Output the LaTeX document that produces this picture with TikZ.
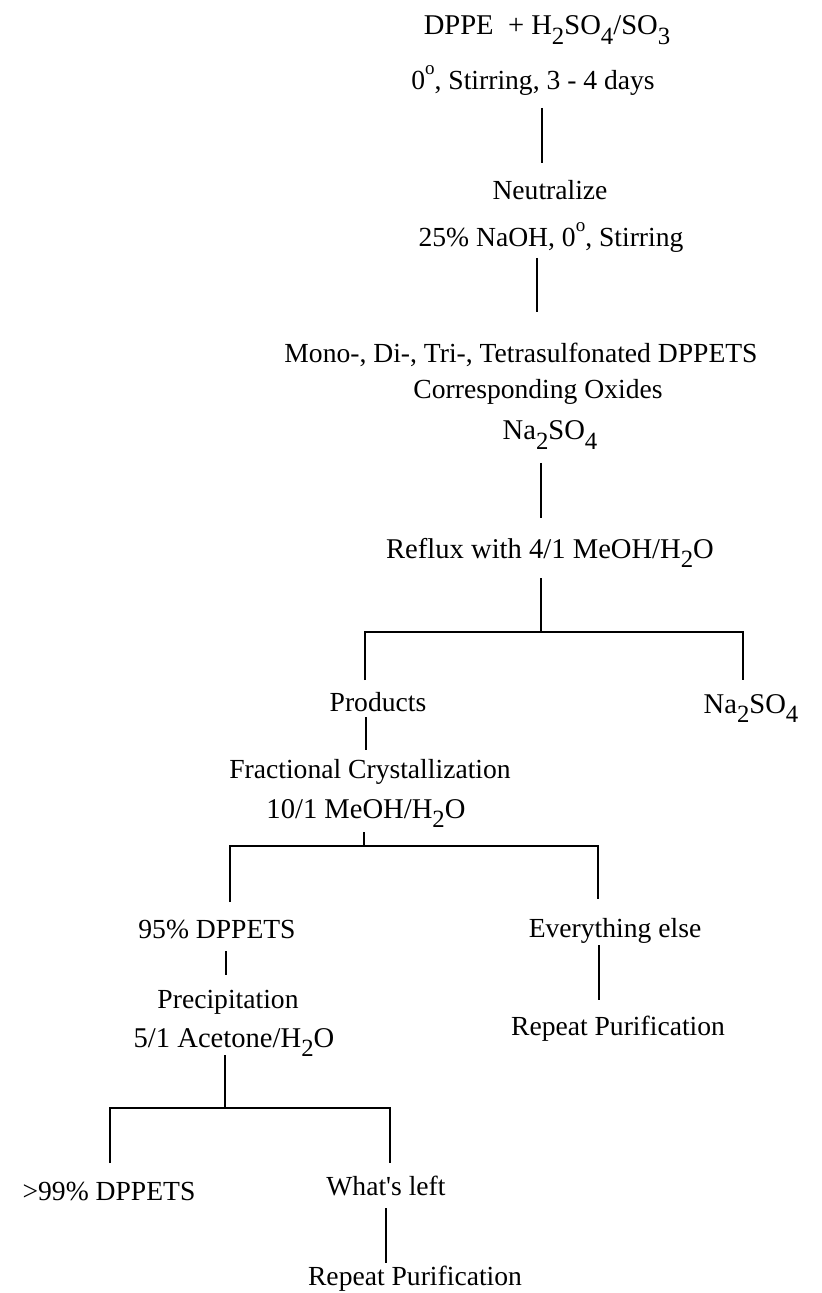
\documentclass[tikz,border=0pt]{standalone}
\usepackage{fontspec}
\setmainfont{Liberation Serif}
\usetikzlibrary{positioning}

\newcommand{\sbs}[1]{\raisebox{-0.32em}{\fontsize{12.4}{13}\selectfont #1}}
\newcommand{\dg}{\raisebox{0.55em}{\fontsize{9.5}{10}\selectfont o}}

\begin{document}
\begin{tikzpicture}[x=0.5pt,y=-0.5pt,line width=0.6pt]
	\tikzset{txt/.style={anchor=base,inner sep=0pt,font=\fontsize{13.8}{16}\selectfont},
		chem/.style={txt,font=\fontsize{14.3}{17}\selectfont}}
	\useasboundingbox (0,0) rectangle (821,1293);
	% main line of the work-up
	\node[chem] (start) at (547,35) {DPPE \ + H\sbs{2}SO\sbs{4}/SO\sbs{3}};
	\node[txt] (cond) at (533,90) {0\dg, Stirring, 3 - 4 days};
	\node[txt] (neut) at (550,200) {Neutralize};
	\node[txt] (naoh) at (551,247) {25\% NaOH, 0\dg, Stirring};
	\node[txt] (mono) at (521,363) {Mono-, Di-, Tri-, Tetrasulfonated DPPETS};
	\node[txt] (oxid) at (538,399) {Corresponding Oxides};
	\node[chem] (salt) at (550,440) {Na\sbs{2}SO\sbs{4}};
	\node[chem] (reflux) at (550,558) {Reflux with 4/1 MeOH/H\sbs{2}O};
	% first split
	\node[txt] (prod) at (378,711) {Products};
	\node[chem] (salt2) at (751,713) {Na\sbs{2}SO\sbs{4}};
	\node[txt] (frac) at (370,778) {Fractional Crystallization};
	\node[chem] (meoh) at (366,818) {10/1 MeOH/H\sbs{2}O};
	% second split
	\node[txt] (pure) at (217,938) {95\% DPPETS};
	\node[txt] (rest) at (615,937) {Everything else};
	\node[txt] (prec) at (228,1008) {Precipitation};
	\node[chem] (acet) at (234,1047) {5/1 Acetone/H\sbs{2}O};
	\node[txt] (rep1) at (618,1035) {Repeat Purification};
	% third split
	\node[txt] (best) at (109,1200) {>99\% DPPETS};
	\node[txt] (left) at (386,1195) {What\textquotesingle s left};
	\node[txt] (rep2) at (415,1285) {Repeat Purification};

	% line ends
	\coordinate (c1a) at (542,108); \coordinate (c1b) at (542,163);
	\coordinate (c2a) at (537,258); \coordinate (c2b) at (537,312);
	\coordinate (c3a) at (541,463); \coordinate (c3b) at (541,518);
	\coordinate (c4a) at (541,578); \coordinate (s1) at (541,632);
	\coordinate (s1l) at (365,680); \coordinate (s1r) at (743,680);
	\coordinate (c5a) at (366,717); \coordinate (c5b) at (366,750);
	\coordinate (c6a) at (364,832); \coordinate (s2) at (364,846);
	\coordinate (s2l) at (230,902); \coordinate (s2r) at (598,899);
	\coordinate (c7a) at (226,951); \coordinate (c7b) at (226,975);
	\coordinate (c8a) at (599,945); \coordinate (c8b) at (599,1000);
	\coordinate (c9a) at (225,1055); \coordinate (s3) at (225,1108);
	\coordinate (s3l) at (110,1163); \coordinate (s3r) at (390,1163);
	\coordinate (c10a) at (386,1208); \coordinate (c10b) at (386,1263);

	\draw (c1a) -- (c1b);
	\draw (c2a) -- (c2b);
	\draw (c3a) -- (c3b);
	\draw (c4a) -- (s1);
	\draw (s1l) |- (s1) -| (s1r);
	\draw (c5a) -- (c5b);
	\draw (c6a) -- (s2);
	\draw (s2l) |- (s2) -| (s2r);
	\draw (c7a) -- (c7b);
	\draw (c8a) -- (c8b);
	\draw (c9a) -- (s3);
	\draw (s3l) |- (s3) -| (s3r);
	\draw (c10a) -- (c10b);
\end{tikzpicture}
\end{document}
